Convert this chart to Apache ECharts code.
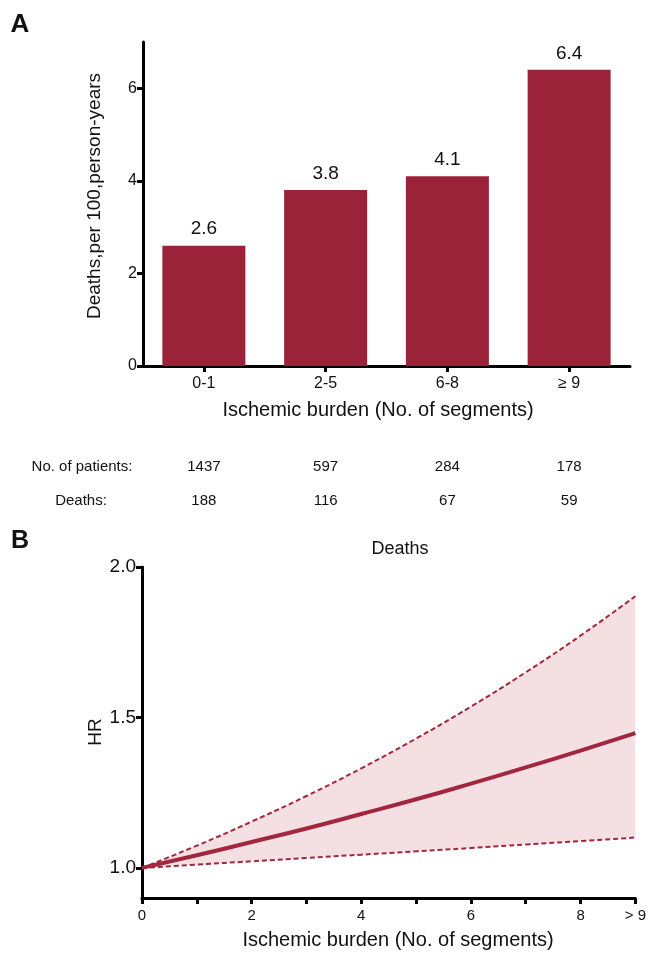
<!DOCTYPE html>
<html>
<head>
<meta charset="utf-8">
<script src="https://cdn.jsdelivr.net/npm/echarts@6/dist/echarts.min.js"></script>
<style>
  html, body { margin: 0; padding: 0; background: #fff; }
  #chart { width: 649px; height: 953px; }
</style>
</head>
<body>
<div id="chart"></div>
<script>
// Panel A: death rate by ischemic burden category
const categories = ['0-1', '2-5', '6-8', '≥ 9'];
const deathRates = [2.6, 3.8, 4.1, 6.4];
const patientCounts = [1437, 597, 284, 178];
const deathCounts = [188, 116, 67, 59];

// Panel B: hazard ratio curve with 95% confidence band
const segments = [0, 1, 2, 3, 4, 5, 6, 7, 8, 9];
const hrMean  = [1.000, 1.042, 1.086, 1.131, 1.179, 1.228, 1.280, 1.334, 1.390, 1.448];
const hrUpper = [1.000, 1.074, 1.154, 1.239, 1.331, 1.430, 1.536, 1.650, 1.772, 1.903];
const hrLower = [1.000, 1.011, 1.022, 1.033, 1.044, 1.055, 1.066, 1.078, 1.089, 1.101];
const hrTicks = [1.0, 1.5, 2.0];
const segLabelValues = [0, 2, 4, 6, 8, 9];

const FONT = '"Liberation Sans", Arial, Helvetica, sans-serif';
const RED = '#9b2339';
const LINE_RED = '#a3263f';
const BAND = '#f4e0e3';
const INK = '#111';

const pairs = (ys) => segments.map((x, i) => [x, ys[i]]);

const chart = echarts.init(document.getElementById('chart'), null, { renderer: 'canvas' });

const axisLine = { show: true, lineStyle: { color: '#000', width: 3 } };

// Shaded region between the lower and upper confidence limits
function renderBand(params, api) {
  if (params.dataIndex !== 0) return null;
  const top = segments.map((x, i) => api.coord([x, hrUpper[i]]));
  const bottom = segments.map((x, i) => api.coord([x, hrLower[i]])).reverse();
  return {
    type: 'polygon',
    shape: { points: top.concat(bottom), smooth: 0 },
    style: { fill: BAND, stroke: null }
  };
}

chart.setOption({
  animation: false,
  backgroundColor: '#fff',
  textStyle: { fontFamily: FONT },
  grid: [
    { left: 143, right: 19, top: 42, height: 324, containLabel: false },
    { left: 142, right: 10, top: 567, height: 331, containLabel: false }
  ],
  xAxis: [
    {
      gridIndex: 0, type: 'category', data: categories,
      axisLine: axisLine,
      axisTick: { show: true, alignWithLabel: true, length: 6, lineStyle: { color: '#000', width: 3 } },
      axisLabel: { color: INK, fontSize: 16, fontFamily: FONT, margin: 10 },
      splitLine: { show: false }
    },
    {
      gridIndex: 1, type: 'value', min: 0, max: 9, interval: 1,
      axisLine: axisLine,
      axisTick: { show: true, length: 6, lineStyle: { color: '#000', width: 3 } },
      axisLabel: {
        color: INK, fontSize: 15, fontFamily: FONT, margin: 10,
        customValues: segLabelValues,
        formatter: (v) => (v === 9 ? '> 9' : String(v))
      },
      splitLine: { show: false }
    }
  ],
  yAxis: [
    {
      gridIndex: 0, type: 'value', min: 0, max: 7, interval: 2,
      axisLine: axisLine,
      axisTick: { show: true, length: 6, lineStyle: { color: '#000', width: 3 } },
      axisLabel: { color: INK, fontSize: 16, fontFamily: FONT, margin: 6, showMaxLabel: false },
      splitLine: { show: false }
    },
    {
      gridIndex: 1, type: 'value', min: 0.9, max: 2.0,
      axisLine: axisLine,
      axisTick: { show: true, length: 6, customValues: hrTicks, lineStyle: { color: '#000', width: 3 } },
      axisLabel: {
        color: INK, fontSize: 19, fontFamily: FONT, margin: 6,
        customValues: hrTicks,
        formatter: (v) => v.toFixed(1)
      },
      splitLine: { show: false }
    }
  ],
  series: [
    {
      type: 'bar', xAxisIndex: 0, yAxisIndex: 0,
      data: deathRates, barWidth: 83,
      itemStyle: { color: RED },
      label: {
        show: true, position: 'top', distance: 7,
        color: INK, fontSize: 19, fontFamily: FONT,
        formatter: (p) => p.value.toFixed(1)
      }
    },
    {
      type: 'custom', xAxisIndex: 1, yAxisIndex: 1,
      renderItem: renderBand, data: [[0, 1]], silent: true, z: 1, clip: true
    },
    {
      type: 'line', xAxisIndex: 1, yAxisIndex: 1, data: pairs(hrUpper), symbol: 'none', smooth: true,
      lineStyle: { color: LINE_RED, width: 2, type: [5, 3] }, z: 3
    },
    {
      type: 'line', xAxisIndex: 1, yAxisIndex: 1, data: pairs(hrLower), symbol: 'none', smooth: true,
      lineStyle: { color: LINE_RED, width: 2, type: [5, 3] }, z: 3
    },
    {
      type: 'line', xAxisIndex: 1, yAxisIndex: 1, data: pairs(hrMean), symbol: 'none', smooth: true,
      lineStyle: { color: LINE_RED, width: 4 }, z: 4
    }
  ]
});

// Text overlays: panel letters, axis names, title and the counts table
const txt = (x, y, text, opts) => Object.assign({
  type: 'text', x: x, y: y,
  style: Object.assign({
    text: text, fill: INK, font: '16px ' + FONT,
    align: 'center', verticalAlign: 'middle'
  }, (opts && opts.style) || {})
}, opts && opts.rotation !== undefined ? { rotation: opts.rotation } : {});

const graphics = [
  txt(20, 25, 'A', { style: { font: 'bold 26px ' + FONT } }),
  txt(20, 541, 'B', { style: { font: 'bold 25px ' + FONT } }),
  txt(95, 196, 'Deaths,per 100,person-years', { rotation: Math.PI / 2, style: { font: '19px ' + FONT } }),
  txt(378, 410, 'Ischemic burden (No. of segments)', { style: { font: '20px ' + FONT } }),
  txt(96, 732, 'HR', { rotation: Math.PI / 2, style: { font: '19px ' + FONT } }),
  txt(398, 940, 'Ischemic burden (No. of segments)', { style: { font: '20px ' + FONT } }),
  txt(400, 549, 'Deaths', { style: { font: '18px ' + FONT } }),
  txt(82, 467, 'No. of patients:', { style: { font: '15px ' + FONT } }),
  txt(81, 501, 'Deaths:', { style: { font: '15px ' + FONT } })
];

categories.forEach((c, i) => {
  const x = chart.convertToPixel({ xAxisIndex: 0 }, c);
  graphics.push(txt(x, 467, String(patientCounts[i]), { style: { font: '15px ' + FONT } }));
  graphics.push(txt(x, 501, String(deathCounts[i]), { style: { font: '15px ' + FONT } }));
});

chart.setOption({ graphic: { elements: graphics } });
</script>
</body>
</html>
